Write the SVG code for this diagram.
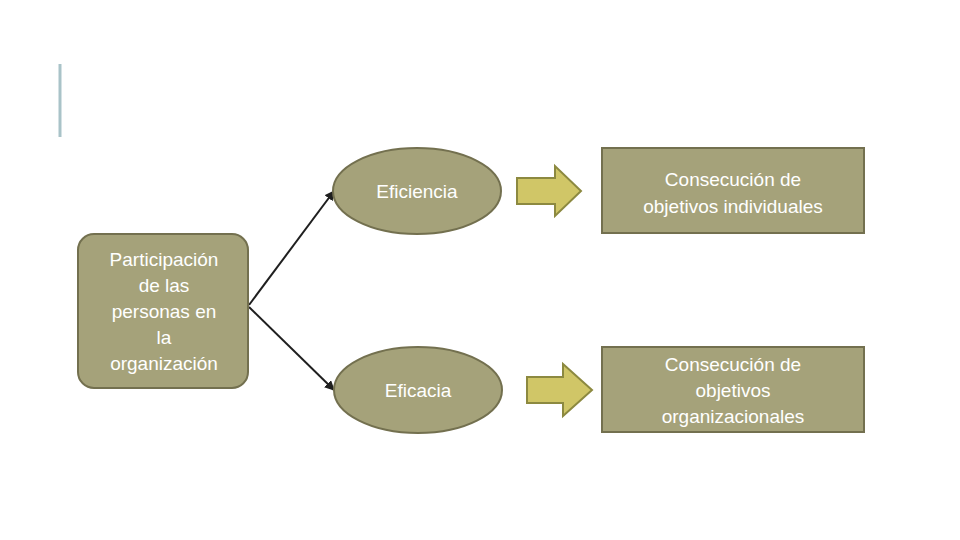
<svg xmlns="http://www.w3.org/2000/svg" width="960" height="540" viewBox="0 0 960 540">
<defs>
<style>
.n{fill:#a5a27a;stroke:#73704f;stroke-width:2}
.t{fill:#fff;font-family:"Liberation Sans",Arial,sans-serif;font-size:19px;text-anchor:middle}
.a{fill:#d0c667;stroke:#8c8940;stroke-width:2}
.c{stroke:#1f1f1f;stroke-width:2;fill:none;marker-end:url(#m)}
</style>
<marker id="m" viewBox="0 0 10 10" refX="9" refY="5" markerWidth="5" markerHeight="5" orient="auto"><path d="M0,0L10,5L0,10z" fill="#1f1f1f"/></marker>
</defs>
<rect width="960" height="540" fill="#fff"/>
<line x1="60" y1="64" x2="60" y2="137" stroke="#a9c3c8" stroke-width="3"/>
<g id="connectors">
<line class="c" x1="249" y1="305" x2="334" y2="191"/>
<line class="c" x1="249" y1="307" x2="334" y2="390"/>
</g>
<g id="participacion"><rect class="n" x="78" y="234" width="170" height="154" rx="16"/>
<text class="t" x="164" y="266">Participación</text><text class="t" x="164" y="292">de las</text><text class="t" x="164" y="318">personas en</text><text class="t" x="164" y="344">la</text><text class="t" x="164" y="370">organización</text></g>
<g id="eficiencia"><ellipse class="n" cx="417" cy="191" rx="84" ry="43"/><text class="t" x="417" y="198">Eficiencia</text></g>
<g id="eficacia"><ellipse class="n" cx="418" cy="390" rx="84" ry="43"/><text class="t" x="418" y="397">Eficacia</text></g>
<g id="flecha1"><path class="a" d="M517,178H555V166L581,191L555,216V204H517Z"/></g>
<g id="flecha2"><path class="a" d="M527,377H563V364L592,390L563,416V403H527Z"/></g>
<g id="individuales"><rect class="n" x="602" y="148" width="262" height="85"/><text class="t" x="733" y="186">Consecución de</text><text class="t" x="733" y="213">objetivos individuales</text></g>
<g id="organizacionales"><rect class="n" x="602" y="347" width="262" height="85"/><text class="t" x="733" y="371">Consecución de</text><text class="t" x="733" y="397">objetivos</text><text class="t" x="733" y="423">organizacionales</text></g>
</svg>
